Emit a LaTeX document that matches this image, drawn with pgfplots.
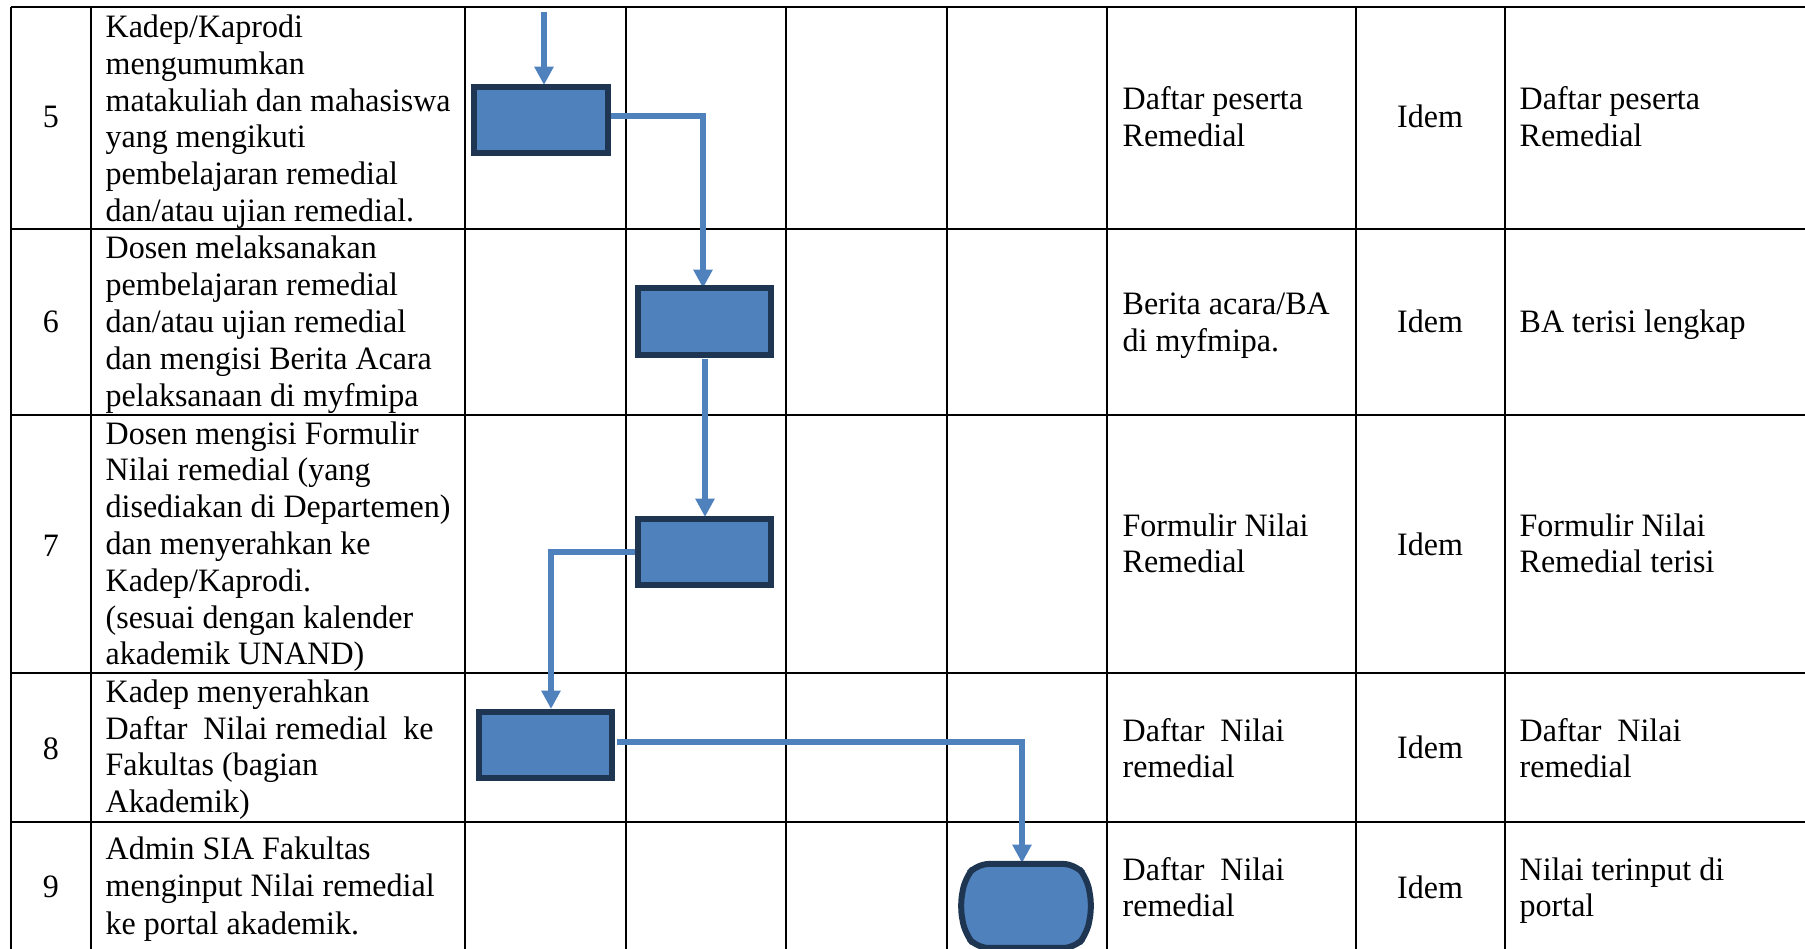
\documentclass[border=0pt]{standalone}
\usepackage{pgfplots}
\pgfplotsset{compat=1.18}
\usetikzlibrary{arrows.meta}
\usepackage{fontspec}
\setmainfont{Liberation Serif}[FakeStretch=0.98]
\definecolor{boxfill}{HTML}{4F81BD}
\definecolor{boxedge}{HTML}{1F3652}
\definecolor{conn}{HTML}{4F81BD}
\tikzset{
  grid line/.style={black, line width=0.8pt, mark=none},
  flowarrow/.style={conn, line width=1.6pt, mark=none, -{Triangle[length=5.5pt,width=5.5pt]}},
  proc/.style={fill=boxfill, draw=boxedge, line width=1.8pt, mark=none},
  txt/.style={anchor=base west, inner sep=0pt, font=\fontsize{9.8}{10.9}\selectfont},
  ctxt/.style={anchor=base, inner sep=0pt, font=\fontsize{9.8}{10.9}\selectfont},
}
\begin{document}
\begin{tikzpicture}
\begin{axis}[
  width=541.5pt, height=284.7pt, scale only axis,
  xmin=0, xmax=1805, ymin=0, ymax=949, y dir=reverse,
  hide axis, clip=true,
]
% table grid: vertical lines
\addplot[grid line] coordinates {(11,7) (11,949)};
\addplot[grid line] coordinates {(91,7) (91,949)};
\addplot[grid line] coordinates {(465,7) (465,949)};
\addplot[grid line] coordinates {(626,7) (626,949)};
\addplot[grid line] coordinates {(786,7) (786,949)};
\addplot[grid line] coordinates {(947,7) (947,949)};
\addplot[grid line] coordinates {(1107,7) (1107,949)};
\addplot[grid line] coordinates {(1356,7) (1356,949)};
\addplot[grid line] coordinates {(1505,7) (1505,949)};
% horizontal lines
\addplot[grid line] coordinates {(11,7) (1805,7)};
\addplot[grid line] coordinates {(11,229) (1805,229)};
\addplot[grid line] coordinates {(11,415) (1805,415)};
\addplot[grid line] coordinates {(11,673) (1805,673)};
\addplot[grid line] coordinates {(11,822) (1805,822)};

% connectors
\addplot[flowarrow] coordinates {(544,12) (544,85)};
\addplot[flowarrow] coordinates {(609,116) (703,116) (703,288)};
\addplot[flowarrow] coordinates {(705,359) (705,517)};
\addplot[flowarrow] coordinates {(637,552) (551,552) (551,709)};
\addplot[flowarrow] coordinates {(617,742) (1022,742) (1022,863)};

% process boxes
\addplot[proc] coordinates {(474,87) (608,87) (608,153) (474,153)} -- cycle;
\addplot[proc] coordinates {(638,288) (771,288) (771,355) (638,355)} -- cycle;
\addplot[proc] coordinates {(638,519) (771,519) (771,585) (638,585)} -- cycle;
\addplot[proc] coordinates {(479,712) (612,712) (612,778) (479,778)} -- cycle;
% terminal
\addplot[proc, rounded corners=3.5pt] coordinates {(977,864) (1075,864) (1087,878) (1092,906) (1087,934) (1075,948) (977,948) (965,934) (960,906) (965,878)} -- cycle;

% numbers
\node[ctxt] at (axis cs:51,128) {5};
\node[ctxt] at (axis cs:51,333) {6};
\node[ctxt] at (axis cs:51,557) {7};
\node[ctxt] at (axis cs:51,760) {8};
\node[ctxt] at (axis cs:51,898) {9};

% column 2
\node[txt] at (axis cs:105,38) {Kadep/Kaprodi};
\node[txt] at (axis cs:105,75) {mengumumkan};
\node[txt] at (axis cs:105,112) {matakuliah dan mahasiswa};
\node[txt] at (axis cs:105,148) {yang mengikuti};
\node[txt] at (axis cs:105,185) {pembelajaran remedial};
\node[txt] at (axis cs:105,222) {dan/atau ujian remedial.};

\node[txt] at (axis cs:105,259) {Dosen melaksanakan};
\node[txt] at (axis cs:105,296) {pembelajaran remedial};
\node[txt] at (axis cs:105,333) {dan/atau ujian remedial};
\node[txt] at (axis cs:105,370) {dan mengisi Berita Acara};
\node[txt] at (axis cs:105,407) {pelaksanaan di myfmipa};

\node[txt] at (axis cs:105,445) {Dosen mengisi Formulir};
\node[txt] at (axis cs:105,481) {Nilai remedial (yang};
\node[txt] at (axis cs:105,518) {disediakan di Departemen)};
\node[txt] at (axis cs:105,555) {dan menyerahkan ke};
\node[txt] at (axis cs:105,592) {Kadep/Kaprodi.};
\node[txt] at (axis cs:105,629) {(sesuai dengan kalender};
\node[txt] at (axis cs:105,665) {akademik UNAND)};

\node[txt] at (axis cs:105,703) {Kadep menyerahkan};
\node[txt] at (axis cs:105,740) {Daftar\ \ Nilai remedial\ \ ke};
\node[txt] at (axis cs:105,776) {Fakultas (bagian};
\node[txt] at (axis cs:105,813) {Akademik)};

\node[txt] at (axis cs:105,860) {Admin SIA Fakultas};
\node[txt] at (axis cs:105,897) {menginput Nilai remedial};
\node[txt] at (axis cs:105,935) {ke portal akademik.};

% column 7 (documents)
\node[txt] at (axis cs:1122,110) {Daftar peserta};
\node[txt] at (axis cs:1122,147) {Remedial};
\node[txt] at (axis cs:1122,315) {Berita acara/BA};
\node[txt] at (axis cs:1122,352) {di myfmipa.};
\node[txt] at (axis cs:1122,537) {Formulir Nilai};
\node[txt] at (axis cs:1122,573) {Remedial};
\node[txt] at (axis cs:1122,742) {Daftar\ \ Nilai};
\node[txt] at (axis cs:1122,778) {remedial};
\node[txt] at (axis cs:1122,881) {Daftar\ \ Nilai};
\node[txt] at (axis cs:1122,917) {remedial};

% column 8 (Idem)
\node[ctxt] at (axis cs:1430,128) {Idem};
\node[ctxt] at (axis cs:1430,333) {Idem};
\node[ctxt] at (axis cs:1430,556) {Idem};
\node[ctxt] at (axis cs:1430,759) {Idem};
\node[ctxt] at (axis cs:1430,899) {Idem};

% column 9 (output)
\node[txt] at (axis cs:1519,110) {Daftar peserta};
\node[txt] at (axis cs:1519,147) {Remedial};
\node[txt] at (axis cs:1519,333) {BA terisi lengkap};
\node[txt] at (axis cs:1519,537) {Formulir Nilai};
\node[txt] at (axis cs:1519,573) {Remedial terisi};
\node[txt] at (axis cs:1519,742) {Daftar\ \ Nilai};
\node[txt] at (axis cs:1519,778) {remedial};
\node[txt] at (axis cs:1519,881) {Nilai terinput di};
\node[txt] at (axis cs:1519,917) {portal};
\end{axis}
\pgfresetboundingbox
\path (current axis.south west) rectangle (current axis.north east);
\end{tikzpicture}
\end{document}
